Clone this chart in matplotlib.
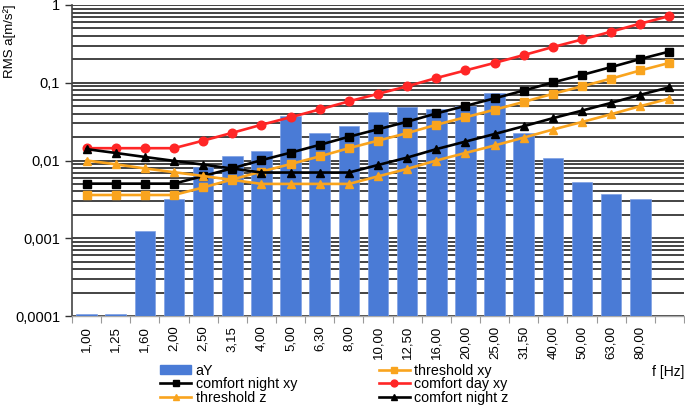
import matplotlib
matplotlib.use("Agg")
import matplotlib.pyplot as plt
from matplotlib.ticker import LogLocator, FixedLocator, NullFormatter, FuncFormatter
from matplotlib.patches import Patch

plt.rcParams['font.family'] = ['Liberation Sans', 'DejaVu Sans']

freq_labels = ['1,00', '1,25', '1,60', '2,00', '2,50', '3,15', '4,00', '5,00', '6,30', '8,00',
               '10,00', '12,50', '16,00', '20,00', '25,00', '31,50', '40,00', '50,00', '63,00',
               '80,00', '']

aY = [0.000106, 0.000106, 0.00124, 0.0032, 0.0082, 0.0114, 0.0132, 0.0373, 0.0226, 0.0278,
      0.042, 0.0488, 0.046, 0.050, 0.0738, 0.0226, 0.0108, 0.00529, 0.00371, 0.0032]

threshold_xy = [0.0036, 0.0036, 0.0036, 0.0036, 0.0045, 0.0057, 0.0072, 0.009, 0.0113, 0.0144,
                0.018, 0.0225, 0.0288, 0.036, 0.045, 0.0567, 0.072, 0.09, 0.113, 0.144, 0.18]
comfort_night_xy = [0.00504, 0.00504, 0.00504, 0.00504, 0.0063, 0.00794, 0.0101, 0.0126, 0.0159,
                    0.0202, 0.0252, 0.0315, 0.0403, 0.0504, 0.063, 0.0794, 0.101, 0.126, 0.159,
                    0.202, 0.252]
comfort_day_xy = [0.0144, 0.0144, 0.0144, 0.0144, 0.018, 0.0227, 0.0288, 0.036, 0.0454, 0.0576,
                  0.072, 0.09, 0.115, 0.144, 0.18, 0.227, 0.288, 0.36, 0.454, 0.576, 0.72]
threshold_z = [0.01, 0.00894, 0.0079, 0.00707, 0.00632, 0.00563, 0.005, 0.005, 0.005, 0.005,
               0.00625, 0.0078, 0.01, 0.0125, 0.0156, 0.0197, 0.025, 0.03125, 0.0394, 0.05, 0.0625]
comfort_night_z = [0.014, 0.0125, 0.0111, 0.0099, 0.00885, 0.00789, 0.007, 0.007, 0.007, 0.007,
                   0.00875, 0.0109, 0.014, 0.0175, 0.0219, 0.0276, 0.035, 0.0438, 0.0551, 0.07,
                   0.0875]

BLUE = '#4A7BD6'
ORANGE = '#F9A41E'
RED = '#FF2626'
BLACK = '#000000'

fig = plt.figure(figsize=(6.85, 4.05), dpi=100)
ax = fig.add_axes([72 / 685, 1 - 316 / 405, 612 / 685, 311 / 405])

xb = list(range(len(aY)))
xl = list(range(len(freq_labels)))

ax.set_yscale('log')

ax.set_axisbelow(True)
ax.yaxis.set_major_locator(LogLocator(base=10, numticks=10))
ax.yaxis.set_minor_locator(LogLocator(base=10, subs=[2, 3, 4, 5, 6, 7, 8, 9], numticks=20))
ax.yaxis.set_minor_formatter(NullFormatter())
ax.yaxis.set_major_formatter(FuncFormatter(
    lambda v, p: {1: '1', 0.1: '0,1', 0.01: '0,01', 0.001: '0,001', 0.0001: '0,0001'}.get(round(v, 6), '')))
ax.grid(True, axis='y', which='both', color='#111111', lw=1.1)
ax.grid(False, axis='x')

ax.bar(xb, aY, width=0.71, color=BLUE, edgecolor='#7EA0E4', linewidth=0.5, zorder=3)

ms = 6.2
lw = 1.9
h_txy, = ax.plot(xl, threshold_xy, color=ORANGE, marker='s', ms=ms, lw=lw, zorder=4)
h_cnxy, = ax.plot(xl, comfort_night_xy, color=BLACK, marker='s', ms=ms, lw=lw, zorder=4)
h_cdxy, = ax.plot(xl, comfort_day_xy, color=RED, marker='o', ms=ms, lw=lw, zorder=4)
h_tz, = ax.plot(xl, threshold_z, color=ORANGE, marker='^', ms=ms, lw=lw, zorder=4)
h_cnz, = ax.plot(xl, comfort_night_z, color=BLACK, marker='^', ms=ms, lw=lw, zorder=4)

ax.set_ylim(0.0001, 1)
ax.set_xlim(-0.5, len(freq_labels) - 0.5)

ax.set_xticks(xl)
ax.set_xticklabels(freq_labels, rotation=90, fontsize=9.5)
ax.xaxis.set_minor_locator(FixedLocator([i + 0.5 for i in range(-1, len(freq_labels))]))
ax.tick_params(axis='x', which='major', length=0, pad=7)
ax.tick_params(axis='x', which='minor', length=5, color='#999999', width=0.8)
ax.tick_params(axis='y', which='major', length=5, color='#333333', labelsize=10.5, width=1)
ax.tick_params(axis='y', which='minor', length=0)

for s in ['top', 'right']:
    ax.spines[s].set_visible(False)
ax.spines['left'].set_color('#444444')
ax.spines['left'].set_linewidth(1.2)
ax.spines['bottom'].set_color('#aaaaaa')
ax.spines['bottom'].set_linewidth(1.0)
ax.spines['bottom'].set_zorder(2.5)

fig.text(3 / 685, 1 - 4 / 405, 'RMS a[m/s²]', rotation=90, ha='left', va='top', fontsize=9.5)
fig.text(684 / 685, 1 - 372 / 405, 'f [Hz]', ha='right', va='center', fontsize=10)

bar_handle = Patch(facecolor=BLUE, edgecolor=BLUE)
handles = [bar_handle, h_cnxy, h_tz, h_txy, h_cdxy, h_cnz]
labels = ['aY', 'comfort night xy', 'threshold z', 'threshold xy', 'comfort day xy', 'comfort night z']
leg = fig.legend(handles, labels, ncol=2, loc='upper left', bbox_to_anchor=(160 / 685, 1 - 364 / 405),
                 frameon=False, fontsize=10.3, handlelength=2.2, handleheight=0.6, handletextpad=0.3,
                 columnspacing=5.7, labelspacing=-0.05, borderpad=0, borderaxespad=0, markerscale=0.8)

fig.savefig('out.png', dpi=100)
